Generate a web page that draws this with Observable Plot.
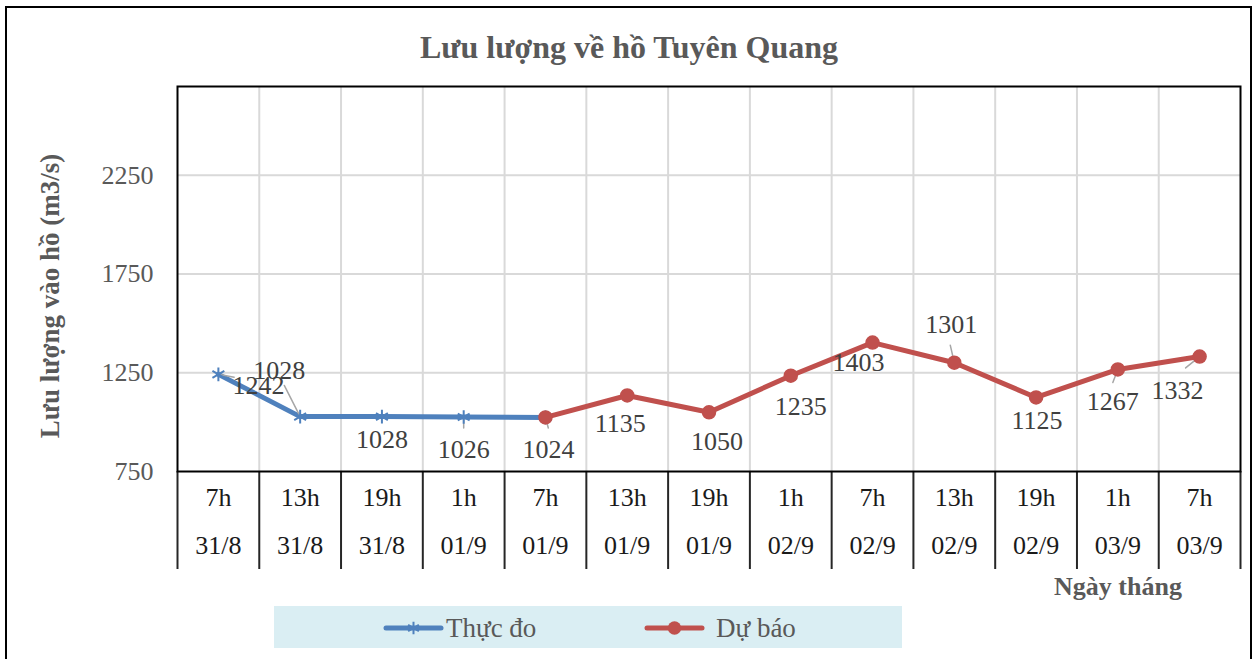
<!DOCTYPE html>
<html><head><meta charset="utf-8">
<script src="https://cdn.jsdelivr.net/npm/d3@7"></script>
<script src="https://cdn.jsdelivr.net/npm/@observablehq/plot@0.6"></script>
<style>
body{margin:0;background:#fff;}
#wrap{position:relative;width:1258px;height:659px;overflow:hidden;font-family:"Liberation Serif","Times New Roman",serif;background:#fff;}
#border{position:absolute;left:5px;top:6px;width:1247px;height:680px;border:2.5px solid #000;box-sizing:border-box;}
#title{position:absolute;left:0;width:1258px;top:28px;text-align:center;font-size:32px;font-weight:bold;color:#595959;line-height:38px;}
#ylab{position:absolute;left:50px;top:296px;transform:translate(-50%,-50%) rotate(-90deg);white-space:nowrap;font-size:27px;font-weight:bold;color:#595959;}
#xlab{position:absolute;left:1118px;top:587px;transform:translate(-50%,-50%);white-space:nowrap;font-size:26px;font-weight:bold;color:#595959;}
#chart{position:absolute;left:0;top:0;}
#chart svg text{font-family:"Liberation Serif","Times New Roman",serif;}
#legend{position:absolute;left:274px;top:606px;width:628px;height:42px;background:#DAEEF3;}
</style></head>
<body>
<div id="wrap">
  <div id="chart"></div>
  <div id="border"></div>
  <div id="title">Lưu lượng về hồ Tuyên Quang</div>
  <div id="ylab">Lưu lượng vào hồ (m3/s)</div>
  <div id="xlab">Ngày tháng</div>
  <div id="legend"></div>
</div>
<script>
const hours = ["7h","13h","19h","1h","7h","13h","19h","1h","7h","13h","19h","1h","7h"];
const dates = ["31/8","31/8","31/8","01/9","01/9","01/9","01/9","02/9","02/9","02/9","02/9","03/9","03/9"];
const thucDo = [1242,1028,1028,1026,1024,null,null,null,null,null,null,null,null];
const duBao  = [null,null,null,null,1024,1135,1050,1235,1403,1301,1125,1267,1332];
const yTicks = [750,1250,1750,2250];
const seriesNames = ["Thực đo","Dự báo"];

// label placement (pixel offsets from each point), like the reference
const labelDx = [40,-21,0,0,3,-7,8,10,-14,-3,1,-5,-22];
const labelDy = [11,-46,23,33,32,28,29,31,20,-38,23,32,34];
// leader lines: index, rotation (deg), length (px)
const leaders = [[0,100,16],[1,-27,35],[3,180,11],[4,165,11],[9,-13,18],[11,-159,14],[12,-129,18]];

const BLUE = "#4F81BD", RED = "#C0504D";
const FONT = "'Liberation Serif','Times New Roman',serif";
const idx = hours.map((d,i)=>i);
const tdData = idx.filter(i=>thucDo[i]!=null).map(i=>({i, v: thucDo[i]}));
const dbData = idx.filter(i=>duBao[i]!=null).map(i=>({i, v: duBao[i]}));
const lblData = idx.map(i=>({i, v: duBao[i]!=null ? duBao[i] : thucDo[i]}));
const bounds = d3.range(0, hours.length + 1).map(i=>i-0.5);
const innerBounds = bounds.slice(1, -1);

const leaderShape = {draw(context, l){ context.moveTo(0,0); context.lineTo(0,-l); }};

const marks = [
  Plot.gridY(yTicks.slice(1), {stroke:"#d9d9d9", strokeOpacity:1, strokeWidth:2}),
  Plot.ruleX(innerBounds, {stroke:"#d9d9d9", strokeWidth:2}),
  Plot.ruleX(bounds, {insetTop:385, insetBottom:-98, stroke:"#262626", strokeWidth:2}),
  Plot.line(tdData, {x:"i", y:"v", stroke:BLUE, strokeWidth:5, strokeLinejoin:"round", strokeLinecap:"round"}),
  Plot.line(dbData, {x:"i", y:"v", stroke:RED, strokeWidth:5, strokeLinejoin:"round", strokeLinecap:"round"}),
  ...leaders.map(([i,rot,len]) => Plot.vector([lblData[i]], {x:"i", y:"v", rotate:rot, length:len, anchor:"start", shape:leaderShape, stroke:"#a6a6a6", strokeWidth:1.5})),
  Plot.dot(tdData, {x:"i", y:"v", symbol:"asterisk", r:6.5, stroke:BLUE, strokeWidth:2}),
  Plot.dot(dbData, {x:"i", y:"v", r:6.5, fill:RED, stroke:RED}),
  ...lblData.map((d,k) => Plot.text([d], {x:"i", y:"v", text: dd => String(dd.v), dx:labelDx[k], dy:labelDy[k], fill:"#404040", fontSize:26, fontFamily:FONT})),
  Plot.frame({stroke:"#000", strokeWidth:2}),
  Plot.axisY(yTicks, {tickSize:0, tickPadding:24, fontSize:26, fontFamily:FONT, fill:"#595959", label:null, tickFormat:d=>String(d)}),
  Plot.text(idx, {x:d=>d, text:d=>hours[d], frameAnchor:"bottom", dy:34, fill:"#1a1a1a", fontSize:26, fontFamily:FONT}),
  Plot.text(idx, {x:d=>d, text:d=>dates[d], frameAnchor:"bottom", dy:82, fill:"#1a1a1a", fontSize:26, fontFamily:FONT})
];

const chart = Plot.plot({
  width:1258, height:659,
  marginTop:86, marginBottom:188, marginLeft:177, marginRight:18,
  x:{type:"linear", domain:[-0.5, hours.length-0.5], axis:null},
  y:{domain:[750,2700], axis:null},
  style:{fontFamily:FONT, fontSize:"26px", background:"transparent", overflow:"visible"},
  marks
});
document.getElementById("chart").appendChild(chart);

// legend
const lg = d3.select("#legend").append("svg").attr("width",628).attr("height",42).style("position","absolute").style("left",0).style("top",0);
const items = [{name:seriesNames[0], color:BLUE, x1:112, x2:167, tx:172, sym:d3.symbolAsterisk},
               {name:seriesNames[1], color:RED, x1:373, x2:428, tx:442, sym:d3.symbolCircle}];
items.forEach(it=>{
  lg.append("line").attr("x1",it.x1).attr("x2",it.x2).attr("y1",22).attr("y2",22).attr("stroke",it.color).attr("stroke-width",5).attr("stroke-linecap","round");
  const p = lg.append("path").attr("transform",`translate(${(it.x1+it.x2)/2},22)`)
    .attr("d", d3.symbol(it.sym, it.sym===d3.symbolCircle ? 140 : 110)());
  if (it.sym===d3.symbolCircle) p.attr("fill",it.color); else p.attr("fill","none").attr("stroke",it.color).attr("stroke-width",2);
  lg.append("text").attr("x",it.tx).attr("y",22).attr("dy","0.35em").attr("font-size",27).attr("fill","#595959")
    .attr("font-family",FONT).text(it.name);
});
</script>
</body></html>
